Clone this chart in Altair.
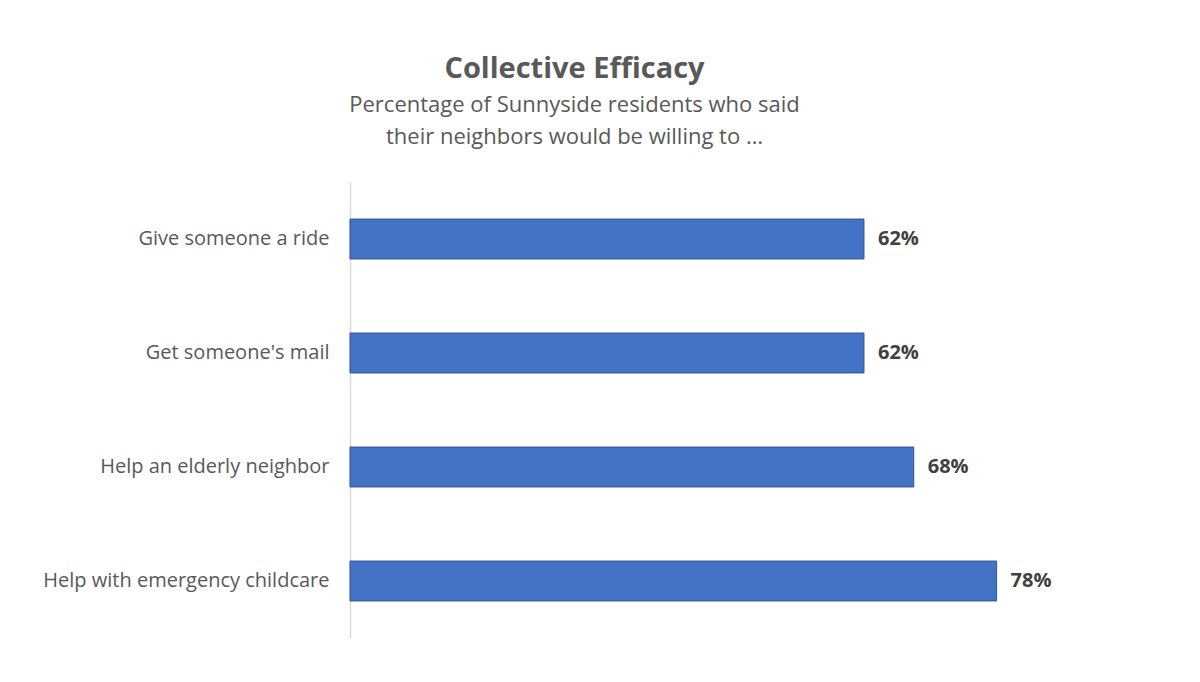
import altair as alt
import pandas as pd

categories = ["Give someone a ride", "Get someone's mail", "Help an elderly neighbor", "Help with emergency childcare"]
values = [62, 62, 68, 78]
value_labels = ["62%", "62%", "68%", "78%"]

df = pd.DataFrame({"label": categories, "value": values, "text": value_labels})

FONT = "Open Sans"

base = alt.Chart(df).encode(
    y=alt.Y("label:N", sort=categories, title=None,
            scale=alt.Scale(paddingInner=0.65, paddingOuter=0.325),
            axis=alt.Axis(domainColor="#D9D9D9", domainWidth=1.5, ticks=False,
                          labelFont=FONT, labelFontSize=20, labelColor="#595959",
                          labelPadding=21, labelLimit=400, grid=False)),
    x=alt.X("value:Q", scale=alt.Scale(domain=[0, 100], nice=False), axis=None),
)

bars = base.mark_bar(color="#4472C4", stroke="#2F5597", strokeWidth=1)
text = base.mark_text(align="left", baseline="middle", dx=14, font=FONT,
                      fontSize=20, fontWeight="bold", color="#404040").encode(text="text:N")

chart = (bars + text).properties(
    width=829, height=456,
    background="white",
    title=alt.TitleParams(
        text="Collective Efficacy",
        subtitle=["Percentage of Sunnyside residents who said", "their neighbors would be willing to …"],
        font=FONT, fontSize=29, fontWeight="bold", color="#595959",
        subtitleFont=FONT, subtitleFontSize=22, subtitleColor="#595959",
        subtitleLineHeight=32, subtitlePadding=11,
        anchor="middle", dx=-190, offset=34,
    ),
    autosize=alt.AutoSizeParams(type="none"),
    padding={"left": 342, "top": 174, "right": 13, "bottom": 28},
).configure_view(strokeWidth=0)

chart.save("out.html", embed_options={"renderer": "svg", "actions": False})
